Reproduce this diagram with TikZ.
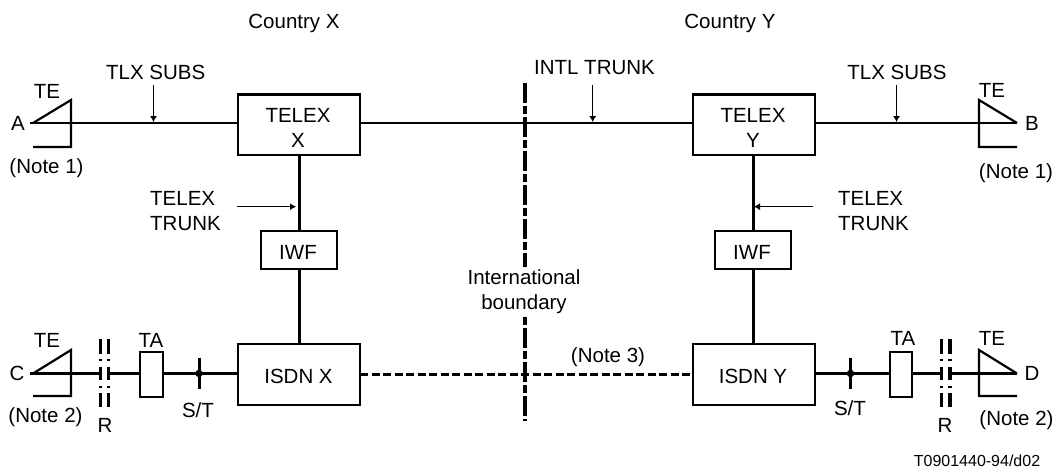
\documentclass[tikz,border=0pt]{standalone}
\usepackage{fontspec}
\setmainfont{Liberation Sans}
\usetikzlibrary{arrows.meta}
\tikzset{
  x=1pt,y=-1pt,
  lab/.style={inner sep=0pt,font=\fontsize{20.5}{25}\selectfont,text=black,align=center},
  smalllab/.style={inner sep=0pt,font=\fontsize{16}{19}\selectfont,text=black},
  blk/.style={draw=black,line width=2.4pt,fill=white,inner sep=0pt,anchor=north west},
  thin line/.style={draw=black,line width=2.4pt},
  thick line/.style={draw=black,line width=3pt},
  te/.style={draw=black,line width=2.2pt},
  ptr/.style={draw=black,line width=0.9pt,-{Latex[length=6pt,width=7pt]}},
  rbar/.style={draw=black,line width=3.2pt,dash pattern=on 15pt off 5pt on 1.5pt off 6.5pt on 13pt off 6pt on 1.5pt off 5.5pt on 14pt off 10pt},
  boundary/.style={draw=black,line width=4pt,dash pattern=on 20pt off 3pt on 8pt off 3pt},
  boundaryb/.style={draw=black,line width=4pt,dash pattern=on 8pt off 3pt on 20pt off 3pt},
  link/.style={draw=black,line width=3pt,dash pattern=on 8pt off 3.5pt},
  dotn/.style={circle,fill=black,inner sep=0pt,minimum size=7.5pt},
}
\newcommand{\boxat}[5]{\node[blk,minimum width=#4pt,minimum height=#5pt] (#1) at (#2,#3) {};}
\begin{document}
\begin{tikzpicture}
\useasboundingbox (0,0) rectangle (1056,468);
% boundary
\coordinate (bt) at (525,83); \coordinate (bm) at (525,266.5);
\coordinate (bn) at (525,317); \coordinate (bb) at (525,421);
\path[boundary] (bt) -- (bm);
\path[boundaryb] (bn) -- (bb);
% boxes
\boxat{tx}{236.5}{93.5}{122}{60.5}
\boxat{ty}{691.5}{93.5}{122}{60.5}
\boxat{ix}{260}{230}{76}{38}
\boxat{iy}{714}{230}{76}{38}
\boxat{sx}{236.5}{343}{122}{60.5}
\boxat{sy}{691.5}{343}{122}{60.5}
\boxat{ax}{139}{351}{22.5}{45}
\boxat{ay}{888.5}{351}{22.5}{45}
% terminals
\coordinate (ate) at (30,123); \coordinate (bte) at (1017,123);
\coordinate (cte) at (30,373.5); \coordinate (dte) at (1017,373.5);
\draw[te] (33,123) -- (71,100) -- (71,147) -- (33,147);
\draw[te] (1017,123) -- (979,100) -- (979,147) -- (1017,147);
\draw[te] (33,373.5) -- (71,350) -- (71,396) -- (33,396);
\draw[te] (1017,373.5) -- (979,350) -- (979,396) -- (1017,396);
% main lines
\path[thin line] (ate) -- (ate -| tx.west);
\path[thin line] (tx.east |- ate) -- (ty.west |- ate);
\path[thin line] (ty.east |- bte) -- (bte);
\path[thick line] (tx.south -| ix.north) -- (ix.north);
\path[thick line] (ty.south -| iy.north) -- (iy.north);
\path[thick line] (ix.south) -- (sx.north -| ix.south);
\path[thick line] (iy.south) -- (sy.north -| iy.south);
% lower lines
\coordinate (rx) at (100.7,373.5); \coordinate (ry) at (950,373.5);
\coordinate (rx2) at (108.3,373.5); \coordinate (ry2) at (941.7,373.5);
\path[te] (cte) -- (rx);
\path[te] (dte) -- (ry);
\path[thick line] (rx2) -- (ax.west |- rx);
\path[thick line] (ry2) -- (ay.east |- ry);
\path[thick line] (ax.east |- rx) -- (sx.west |- rx);
\path[thick line] (ay.west |- ry) -- (sy.east |- ry);
\coordinate (lk1) at (360,374); \coordinate (lk2) at (691,374);
\path[link] (lk1) -- (lk2);
% R bars
\coordinate (r1t) at (100.7,339); \coordinate (r1b) at (100.7,407);
\coordinate (r2t) at (108.3,339); \coordinate (r2b) at (108.3,407);
\coordinate (r3t) at (941.7,339); \coordinate (r3b) at (941.7,407);
\coordinate (r4t) at (950,339); \coordinate (r4b) at (950,407);
\path[rbar] (r1t) -- (r1b); \path[rbar] (r2t) -- (r2b);
\path[rbar] (r3t) -- (r3b); \path[rbar] (r4t) -- (r4b);
% S/T
\node[dotn] (dx) at (199,373.5) {};
\node[dotn] (dy) at (850.5,373.5) {};
\coordinate (dxt) at (199,358); \coordinate (dxb) at (199,389);
\coordinate (dyt) at (850.5,358); \coordinate (dyb) at (850.5,389);
\path[thick line] (dxt) -- (dxb);
\path[thick line] (dyt) -- (dyb);
% pointers
\coordinate (p1) at (153.5,85); \coordinate (p1e) at (153.5,122);
\coordinate (p2) at (592.7,85); \coordinate (p2e) at (592.7,122);
\coordinate (p3) at (896.5,85); \coordinate (p3e) at (896.5,122);
\coordinate (p4) at (237,206.7); \coordinate (p4e) at (296,206.7);
\coordinate (p5) at (813,206.7); \coordinate (p5e) at (754,206.7);
\draw[ptr] (p1) -- (p1e); \draw[ptr] (p2) -- (p2e); \draw[ptr] (p3) -- (p3e);
\draw[ptr] (p4) -- (p4e); \draw[ptr] (p5) -- (p5e);
% box labels
\node[lab] (txl) at (298,127.5) {TELEX\\X};
\node[lab] (tyl) at (753,127.5) {TELEX\\Y};
\node[lab] (ixl) at (298,252) {IWF};
\node[lab] (iyl) at (752,252) {IWF};
\node[lab] (sxl) at (298.5,376.5) {ISDN X};
\node[lab] (syl) at (753,376.5) {ISDN Y};
% labels
\node[lab] (cx) at (294,23) {Country X};
\node[lab] (cy) at (730,23) {Country Y};
\node[lab] (l1) at (155.7,72) {TLX SUBS};
\node[lab] (l2) at (594.5,68) {INTL TRUNK};
\node[lab] (l3) at (897,72) {TLX SUBS};
\node[lab] (te1) at (47,91) {TE};
\node[lab] (te2) at (992,90) {TE};
\node[lab] (te3) at (47,340) {TE};
\node[lab] (te4) at (992,338) {TE};
\node[lab] (a) at (18,123) {A};
\node[lab] (b) at (1032,123) {B};
\node[lab] (c) at (17,373) {C};
\node[lab] (d) at (1032,373) {D};
\node[lab] (n1) at (46.5,168.5) {(Note 1)};
\node[lab] (n1b) at (1016,173) {(Note 1)};
\node[lab] (n2) at (45.5,417.5) {(Note 2)};
\node[lab] (n2b) at (1016.5,420.5) {(Note 2)};
\node[lab] (n3) at (608,357.5) {(Note 3)};
\node[lab,align=left,anchor=west] (t1) at (150,211) {TELEX\\TRUNK};
\node[lab,align=left,anchor=west] (t2) at (838,211) {TELEX\\TRUNK};
\node[lab] (ib) at (524,292) {International\\boundary};
\node[lab] (ta1) at (151,340) {TA};
\node[lab] (ta2) at (903,338) {TA};
\node[lab] (st1) at (198,410) {S/T};
\node[lab] (st2) at (850,408) {S/T};
\node[lab] (r1) at (105,425) {R};
\node[lab] (r2) at (945,425) {R};
\node[smalllab] (code) at (977,461) {T0901440-94/d02};
\end{tikzpicture}
\end{document}
